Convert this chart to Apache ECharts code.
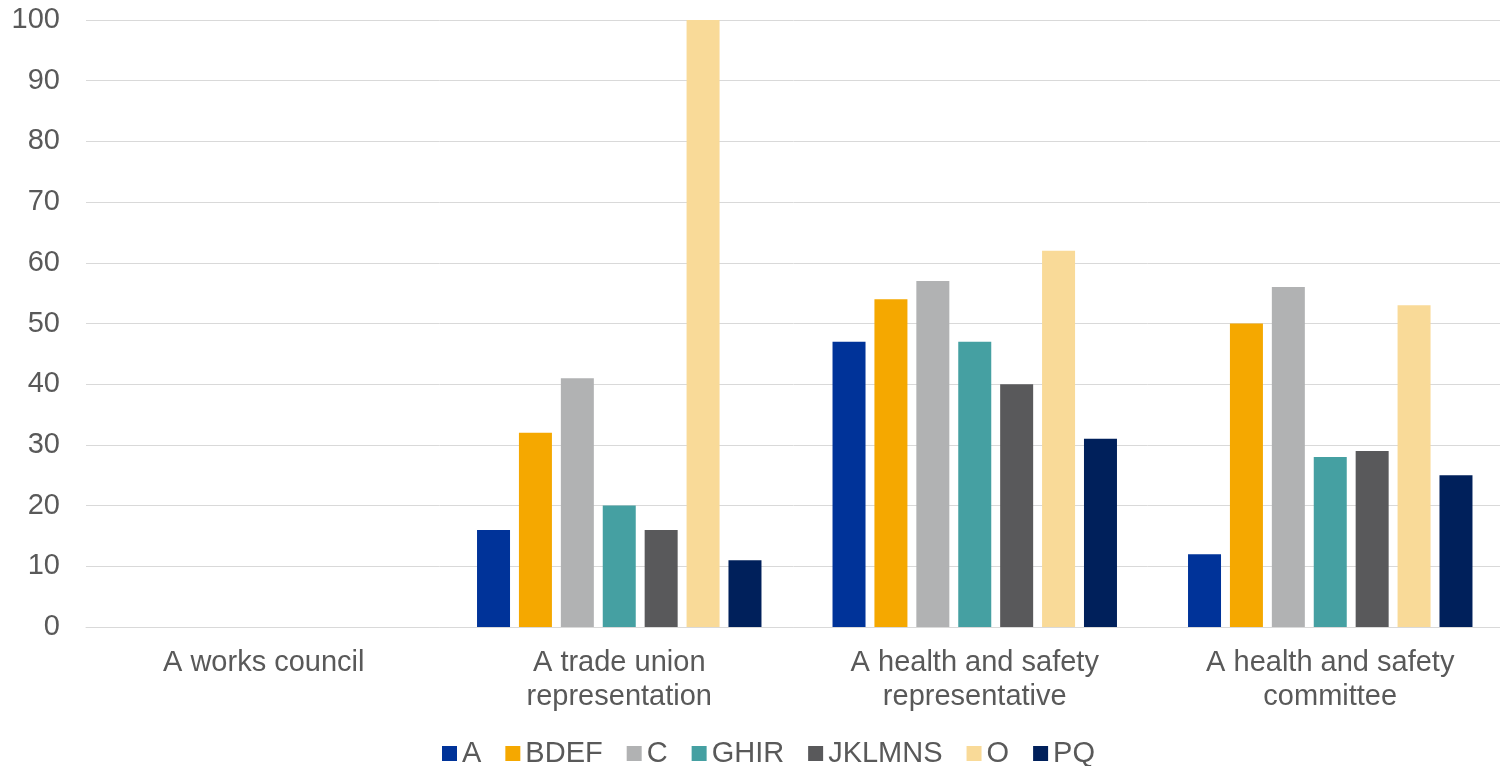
<!DOCTYPE html>
<html><head><meta charset="utf-8">
<script src="https://cdn.jsdelivr.net/npm/echarts@6/dist/echarts.min.js"></script>
<style>html,body{margin:0;padding:0;background:#fff}#c{width:1500px;height:766px}</style>
</head><body><div id="c"></div>
<script>
const categories = ['A works council', 'A trade union\nrepresentation', 'A health and safety\nrepresentative', 'A health and safety\ncommittee'];
const seriesNames = ['A', 'BDEF', 'C', 'GHIR', 'JKLMNS', 'O', 'PQ'];
const sA      = [null, 16, 47, 12];
const sBDEF   = [null, 32, 54, 50];
const sC      = [null, 41, 57, 56];
const sGHIR   = [null, 20, 47, 28];
const sJKLMNS = [null, 16, 40, 29];
const sO      = [null, 100, 62, 53];
const sPQ     = [null, 11, 31, 25];
const colors = ['#003399', '#F5A800', '#B1B2B3', '#45A0A2', '#59595B', '#F9DA98', '#00205B'];
const yTicks = { min: 0, max: 100, interval: 10 };

const allData = [sA, sBDEF, sC, sGHIR, sJKLMNS, sO, sPQ];
const chart = echarts.init(document.getElementById('c'));
chart.setOption({
  animation: false,
  textStyle: { fontFamily: 'Liberation Sans, Arial, sans-serif' },
  grid: { left: 86, top: 20, width: 1422, height: 607, containLabel: false, outerBoundsMode: 'none' },
  legend: {
    top: 739, left: 442, padding: 0,
    itemWidth: 15, itemHeight: 15, itemGap: 24,
    icon: 'rect',
    textStyle: { fontSize: 29, color: '#595959' },
    data: seriesNames
  },
  xAxis: {
    type: 'category', data: categories,
    axisLine: { show: true, lineStyle: { color: '#D9D9D9', width: 1 } },
    axisTick: { show: false },
    axisLabel: { fontSize: 29, color: '#595959', margin: 19, lineHeight: 34, interval: 0 }
  },
  yAxis: {
    type: 'value', min: yTicks.min, max: yTicks.max, interval: yTicks.interval,
    axisLine: { show: false }, axisTick: { show: false },
    axisLabel: { fontSize: 29, color: '#595959', margin: 26 },
    splitLine: { lineStyle: { color: '#D9D9D9', width: 1 } }
  },
  series: seriesNames.map((n, i) => ({
    name: n, type: 'bar', data: allData[i],
    barWidth: 33, barGap: '27%',
    itemStyle: { color: colors[i] }
  }))
});
</script></body></html>
